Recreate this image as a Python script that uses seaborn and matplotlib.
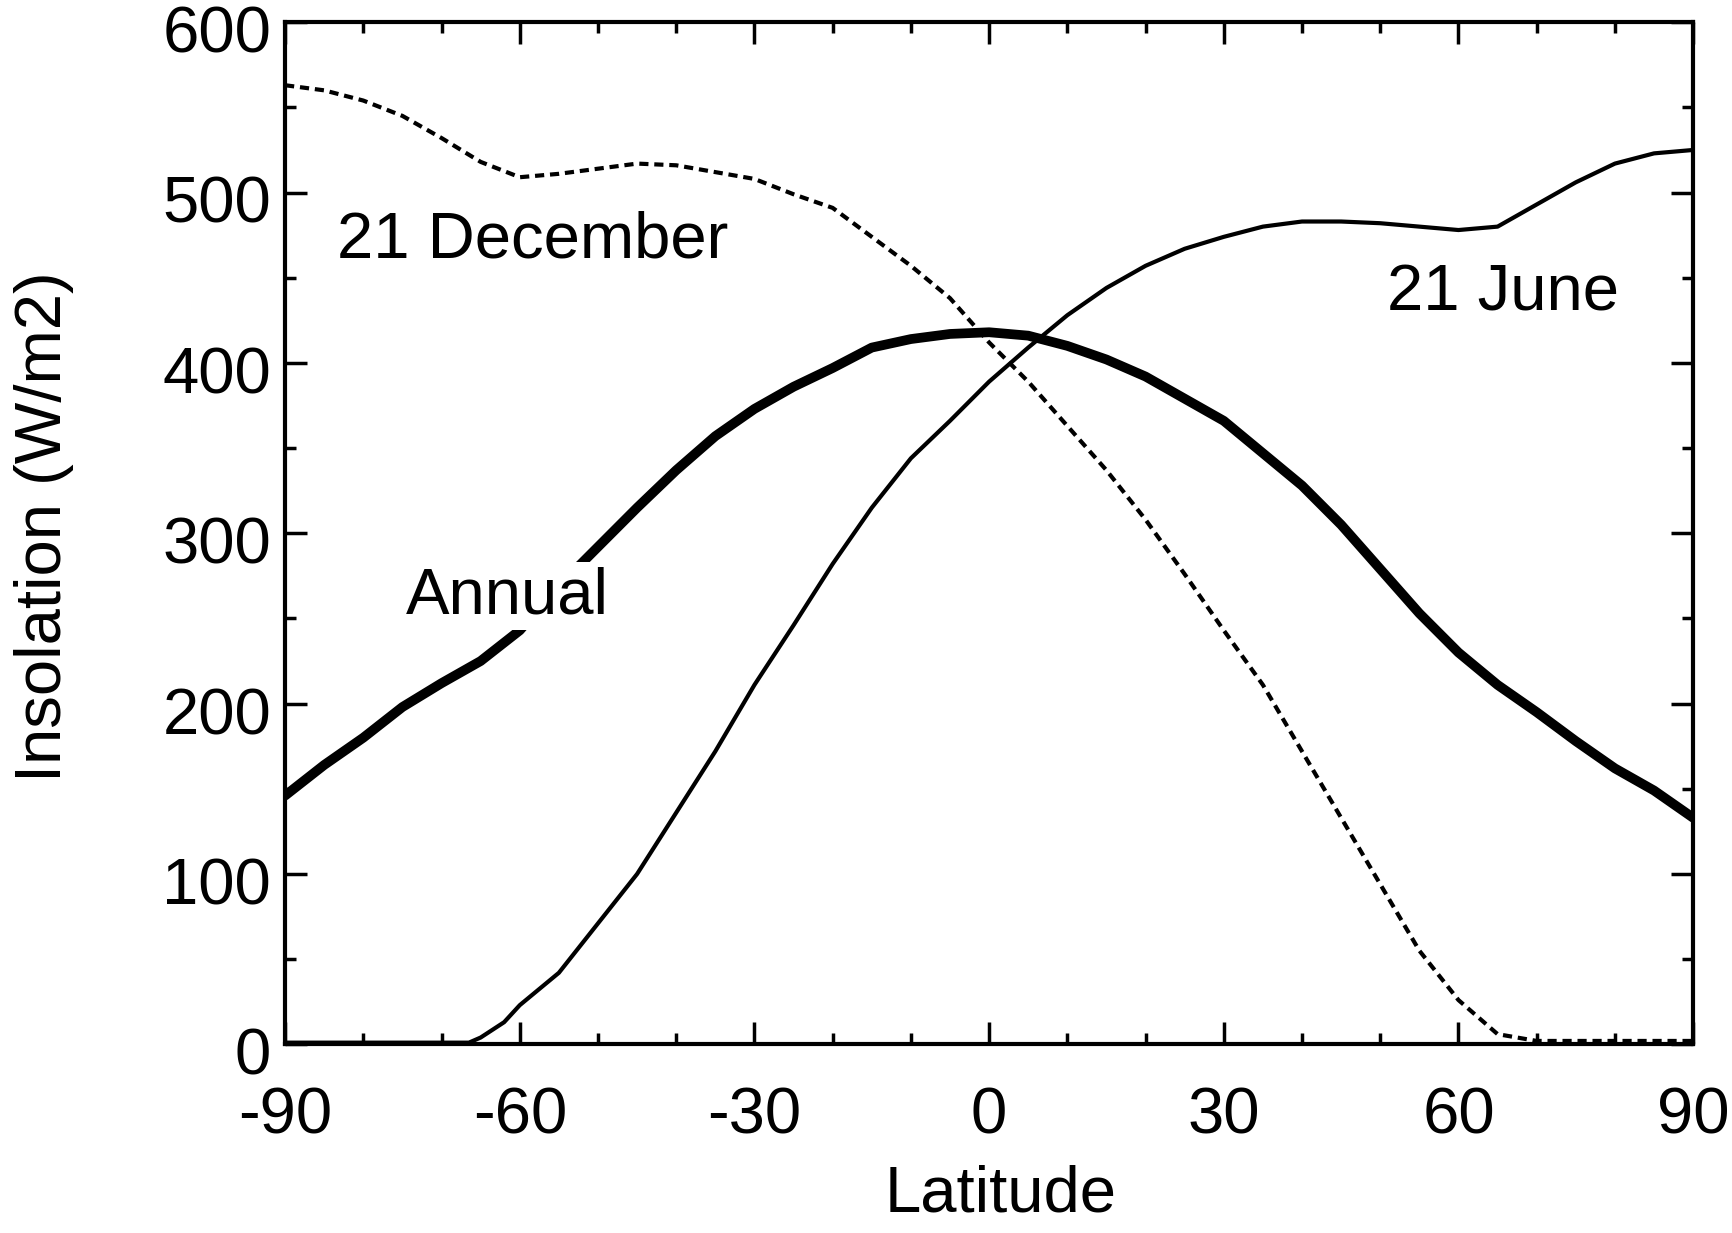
import matplotlib
matplotlib.use("Agg")
import matplotlib.pyplot as plt
import matplotlib.transforms as mtransforms
import seaborn as sns
import numpy as np
import pandas as pd
from matplotlib.ticker import MultipleLocator

lat = [-90, -85, -80, -75, -70, -65, -60, -55, -50, -45, -40, -35, -30, -25, -20,
       -15, -10, -5, 0, 5, 10, 15, 20, 25, 30, 35, 40, 45, 50, 55, 60, 65, 70,
       75, 80, 85, 90]

december = [563, 560, 554, 545, 532, 518, 509, 511, 514, 517, 516, 512, 508, 499, 491,
            474, 457, 438, 412, 389, 363, 337, 308, 276, 243, 211, 172, 133, 94, 55, 26,
            6, 2, 2, 2, 2, 2]

june_lat = [-90, -85, -80, -75, -70, -66.5, -65, -62, -60, -55, -50, -45, -40, -35, -30,
            -25, -20, -15, -10, -5, 0, 5, 10, 15, 20, 25, 30, 35, 40, 45, 50, 55,
            60, 65, 70, 75, 80, 85, 90]
june = [1, 1, 1, 1, 1, 1, 4, 13, 23, 42, 71, 100, 136, 172, 211,
        246, 282, 315, 344, 366, 389, 409, 428, 444, 457, 467, 474, 480, 483, 483, 482, 480,
        478, 480, 493, 506, 517, 523, 525]

annual = [146, 164, 180, 198, 212, 225, 243, 269, 292, 315, 337, 357, 373, 386, 397,
          409, 414, 417, 418, 416, 410, 402, 392, 379, 366, 347, 328, 305, 279, 253, 230,
          211, 195, 178, 162, 149, 133]

x_ticks = [-90, -60, -30, 0, 30, 60, 90]
y_ticks = [0, 100, 200, 300, 400, 500, 600]

sns.set_theme(style="ticks")
plt.rcParams['font.family'] = ['Liberation Sans', 'DejaVu Sans']
plt.rcParams['text.color'] = 'black'
plt.rcParams['axes.labelcolor'] = 'black'

FS = 47

fig = plt.figure(figsize=(17.33, 12.33), dpi=100)
ax = fig.add_axes([0.1645, 0.153, 0.8125, 0.829])

df_d = pd.DataFrame({"lat": lat, "val": december})
df_j = pd.DataFrame({"lat": june_lat, "val": june})
df_a = pd.DataFrame({"lat": lat, "val": annual})

sns.lineplot(data=df_d, x="lat", y="val", ax=ax, color="black", lw=3.0,
             linestyle=(0, (2.2, 1.4)), zorder=3)
sns.lineplot(data=df_j, x="lat", y="val", ax=ax, color="black", lw=3.0, zorder=3)
sns.lineplot(data=df_a, x="lat", y="val", ax=ax, color="black", lw=7.0, zorder=3)

ax.set_xlim(-90, 90)
ax.set_ylim(0, 600)
ax.set_xticks(x_ticks)
ax.set_yticks(y_ticks)
ax.set_xticklabels([str(v) for v in x_ticks])
ax.set_yticklabels([str(v) for v in y_ticks])
ax.xaxis.set_minor_locator(MultipleLocator(10))
ax.yaxis.set_minor_locator(MultipleLocator(50))
ax.tick_params(which="both", direction="in", top=True, right=True, width=2.5,
               colors="black")
ax.tick_params(which="major", length=16, labelsize=FS)
ax.tick_params(axis="x", which="major", pad=30)
ax.tick_params(axis="y", which="major", pad=10)
ax.tick_params(which="minor", length=8)
for s in ax.spines.values():
    s.set_linewidth(3)
    s.set_color("black")

# y tick labels sit slightly below their ticks in the reference
offset = mtransforms.ScaledTranslation(0, -5 / 72, fig.dpi_scale_trans)
for lab in ax.get_yticklabels():
    lab.set_transform(lab.get_transform() + offset)

ax.set_xlabel("Latitude", fontsize=FS)
ax.set_ylabel("Insolation (W/m2)", fontsize=FS)
ax.xaxis.set_label_coords(0.508, -0.118)
ax.yaxis.set_label_coords(-0.150, 0.506)

ax.text(-83.4, 472, "21 December", fontsize=FS, ha="left", va="center", zorder=5)
ax.text(50.9, 441, "21 June", fontsize=FS, ha="left", va="center", zorder=5)
ax.text(-74.5, 263, "Annual", fontsize=FS, ha="left", va="center", zorder=5,
        bbox=dict(facecolor="white", edgecolor="none", pad=3))

fig.savefig("out.png", dpi=100, facecolor="white")
